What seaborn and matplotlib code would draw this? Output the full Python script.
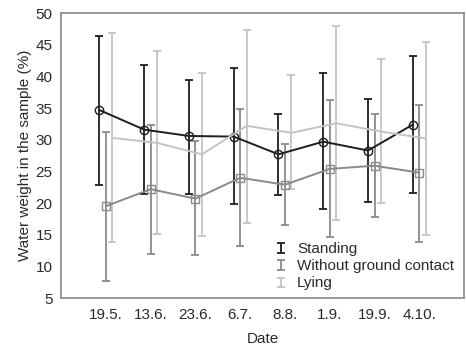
import numpy as np
import pandas as pd
import matplotlib
matplotlib.use("Agg")
import matplotlib.pyplot as plt
import seaborn as sns
from matplotlib.container import ErrorbarContainer
from matplotlib.legend_handler import HandlerErrorbar

dates = ["19.5.", "13.6.", "23.6.", "6.7.", "8.8.", "1.9.", "19.9.", "4.10."]
series_names = ["Standing", "Without ground contact", "Lying"]

standing_mean = [34.7, 31.6, 30.6, 30.5, 27.7, 29.7, 28.3, 32.4]
standing_low = [22.9, 21.4, 21.4, 19.8, 21.3, 19.1, 20.2, 21.6]
standing_high = [46.4, 41.8, 39.5, 41.3, 34.1, 40.6, 36.5, 43.2]

without_mean = [19.5, 22.2, 20.7, 24.0, 22.9, 25.4, 25.9, 24.8]
without_low = [7.7, 11.9, 11.8, 13.2, 16.5, 14.7, 17.8, 13.9]
without_high = [31.2, 32.4, 29.8, 34.8, 29.3, 36.3, 34.0, 35.5]

lying_mean = [30.3, 29.5, 27.7, 32.2, 31.1, 32.6, 31.3, 30.2]
lying_low = [13.9, 15.1, 14.8, 16.9, 22.2, 17.4, 20.0, 14.9]
lying_high = [46.9, 44.0, 40.5, 47.4, 40.2, 47.9, 42.8, 45.5]

sns.set_style("white")
plt.rcParams["font.family"] = ["Liberation Sans", "DejaVu Sans"]

fig = plt.figure(figsize=(4.66, 3.45), dpi=100)
ax = fig.add_axes([0.131, 0.136, 0.865, 0.826])

colors = ["#1e1e1e", "#8a8a8a", "#c4c4c4"]
offsets = [-0.145, 0.0, 0.145]
markers = ["o", "s", None]
data = [
    (standing_mean, standing_low, standing_high),
    (without_mean, without_low, without_high),
    (lying_mean, lying_low, lying_high),
]

x = np.arange(1, len(dates) + 1)
handles = []
for name, (m, lo, hi), c, off, mk in zip(series_names, data, colors, offsets, markers):
    xs = x + off
    m = np.array(m); lo = np.array(lo); hi = np.array(hi)
    df = pd.DataFrame({"x": xs, "y": m})
    sns.lineplot(data=df, x="x", y="y", ax=ax, color=c, lw=1.4,
                 marker=mk if mk else None, markersize=6,
                 markerfacecolor="none", markeredgecolor=c, markeredgewidth=1.0,
                 legend=False, zorder=3)
    h = ax.errorbar(xs, m, yerr=[m - lo, hi - m], fmt="none", ecolor=c,
                    elinewidth=1.3, capsize=3, capthick=1.3, zorder=2, label=name)
    handles.append(h)

ax.set_xlim(0, 9)
ax.set_ylim(5, 50)
ax.set_xticks(x)
ax.set_xticklabels(dates)
ax.set_yticks(np.arange(5, 51, 5))
ax.tick_params(axis="both", which="both", direction="out", length=3, width=1,
               color="#888888", labelsize=11, labelcolor="#2a2a2a", pad=3)
ax.tick_params(axis="x", pad=4)
for s in ax.spines.values():
    s.set_visible(True)
    s.set_color("#888888")
    s.set_linewidth(1.2)

ax.set_xlabel("Date", fontsize=11, color="#2a2a2a", labelpad=7)
ax.set_ylabel("Water weight in the sample (%)", fontsize=11, color="#2a2a2a", labelpad=3)

leg = ax.legend(handles=handles, labels=series_names, loc="lower left",
                bbox_to_anchor=(0.51, 0.0), frameon=False, fontsize=11,
                handlelength=0.9, handletextpad=0.6, labelspacing=0.2,
                borderaxespad=0.1,
                handler_map={ErrorbarContainer: HandlerErrorbar(xerr_size=0.3, yerr_size=0.3)})
for t in leg.get_texts():
    t.set_color("#2a2a2a")

fig.savefig("out.png", dpi=100)
